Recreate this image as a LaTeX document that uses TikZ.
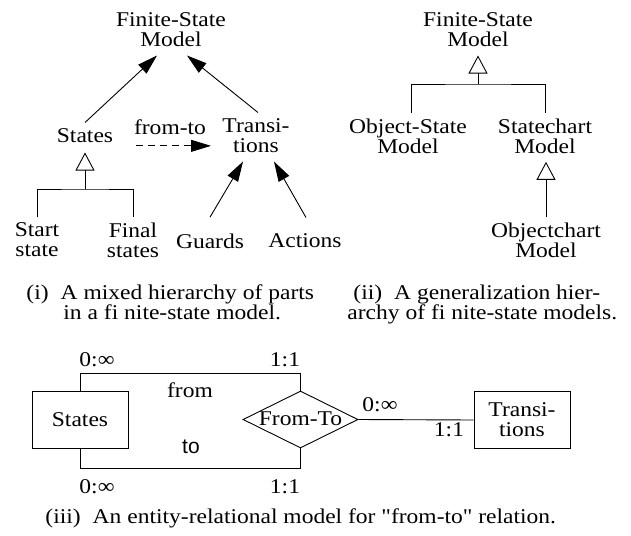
\documentclass[tikz,border=0pt]{standalone}
\usepackage{fontspec}
\setmainfont{Liberation Serif}[FakeStretch=1.12]
\newfontfamily\plainserif{Liberation Serif}[FakeStretch=1.12,Ligatures=TeXOff]
\newfontfamily\helv{Liberation Sans}
\usetikzlibrary{arrows.meta,shapes.geometric,calc}

\begin{document}
\begin{tikzpicture}[x=1pt,y=-1pt,line width=0.9pt,
  font=\fontsize{21}{20}\selectfont,
  lbl/.style={inner sep=2pt,align=center},
  part/.style={-{Triangle[length=20pt,width=12pt]}},
  isa/.style={-{Triangle[open,length=18pt,width=19pt]}},
  entity/.style={draw,inner sep=0pt,minimum width=96pt,minimum height=57pt,align=center},
  capt/.style={inner sep=0pt,align=left,font=\fontsize{21}{16}\selectfont}]
\useasboundingbox (0,0) rectangle (631,535);

% (i) parts of a finite-state model
\begin{scope}
\node[lbl] (fsm) at (171,30) {Finite-State\\Model};
\node[lbl] (states) at (85,136) {States};
\node[lbl] (trans) at (256,136) {Transi-\\tions};
\node[lbl] (start) at (37,240) {Start\\state};
\node[lbl] (final) at (133,240) {Final\\states};
\node[lbl] (guards) at (210,241) {Guards};
\node[lbl] (actions) at (305,241) {Actions};
\node[lbl] (fromto) at (170,127) {from-to};
\coordinate (gen) at (85,189);

\draw[part] ([yshift=4pt]states.north) -- ([xshift=-14pt,yshift=-6pt]fsm.south);
\draw[part] ([xshift=2pt,yshift=4pt]trans.north) -- ([xshift=16pt,yshift=-6pt]fsm.south);
\draw[part] ([yshift=14pt]guards.north) -- ([xshift=-13pt,yshift=-6pt]trans.south);
\draw[part] ([xshift=1pt,yshift=14pt]actions.north) -- ([xshift=18pt,yshift=-6pt]trans.south);
\draw[part,dash pattern=on 7pt off 5pt] ($(states.base east)+(20,3)$) -- ($(states.base east -| trans.west)+(-9,3)$);

\draw ([yshift=3pt]start.north) |- (gen) -| ([yshift=3pt]final.north);
\draw[isa,shorten >=7pt] (gen) -- (states.south);
\end{scope}

% (ii) generalization of finite-state models
\begin{scope}
\node[lbl] (fsm2) at (478,30) {Finite-State\\Model};
\node[lbl] (osm) at (408,136) {Object-State\\Model};
\node[lbl] (scm) at (545,136) {Statechart\\Model};
\node[lbl] (ocm) at (546,240) {Objectchart\\Model};
\coordinate (gen2) at (478,84);

\draw ([xshift=3pt,yshift=3pt]osm.north) |- (gen2) -| ([yshift=3pt]scm.north);
\draw[isa,shorten >=6pt] (gen2) -- (fsm2.south);
\draw[isa,shorten >=6pt] ([yshift=3pt]ocm.north) -- (ocm.north |- scm.south);
\end{scope}

\node[capt,anchor=north west] (capi) at (26,284)
  {(i)\hspace{12pt}A mixed hierarchy of parts\\\hspace{37pt}in a fi nite-state model.};
\node[capt,anchor=north west] (capii) at (347,284)
  {\hspace{6pt}(ii)\hspace{12pt}A generalization hier-\\archy of fi nite-state models.};

% (iii) entity-relational model
\begin{scope}
\node[entity] (sbox) at (80,420) {States};
\node[draw,diamond,inner sep=0pt,minimum width=115pt,minimum height=57pt] (ft) at (300.5,419.5) {};
\node[lbl] (ftlbl) at (300.5,419) {From-To};
\node[entity] (tbox) at (522,420) {Transi-\\tions};

\draw (sbox.north) -- ++(0,-18) -| (ft.north);
\draw (sbox.south) -- ++(0,19) -| (ft.south);
\draw (ft.east) -- (tbox.west);

\node[lbl] (m1) at (97,360) {0:∞};
\node[lbl] (m2) at (285,360) {1:1};
\node[lbl] (from) at (190,390) {from};
\node[lbl,font=\helv\fontsize{21}{20}\selectfont] (to) at (191,447) {to};
\node[lbl] (m3) at (97,487) {0:∞};
\node[lbl] (m4) at (285,487) {1:1};
\node[lbl] (m5) at (380,405) {0:∞};
\node[lbl] (m6) at (449,430) {1:1};
\end{scope}

\node[capt,anchor=base west,font=\plainserif\fontsize{21}{16}\selectfont] (capiii) at (45,523)
  {(iii)\hspace{12pt}An entity-relational model for "from-to" relation.};
\end{tikzpicture}
\end{document}
